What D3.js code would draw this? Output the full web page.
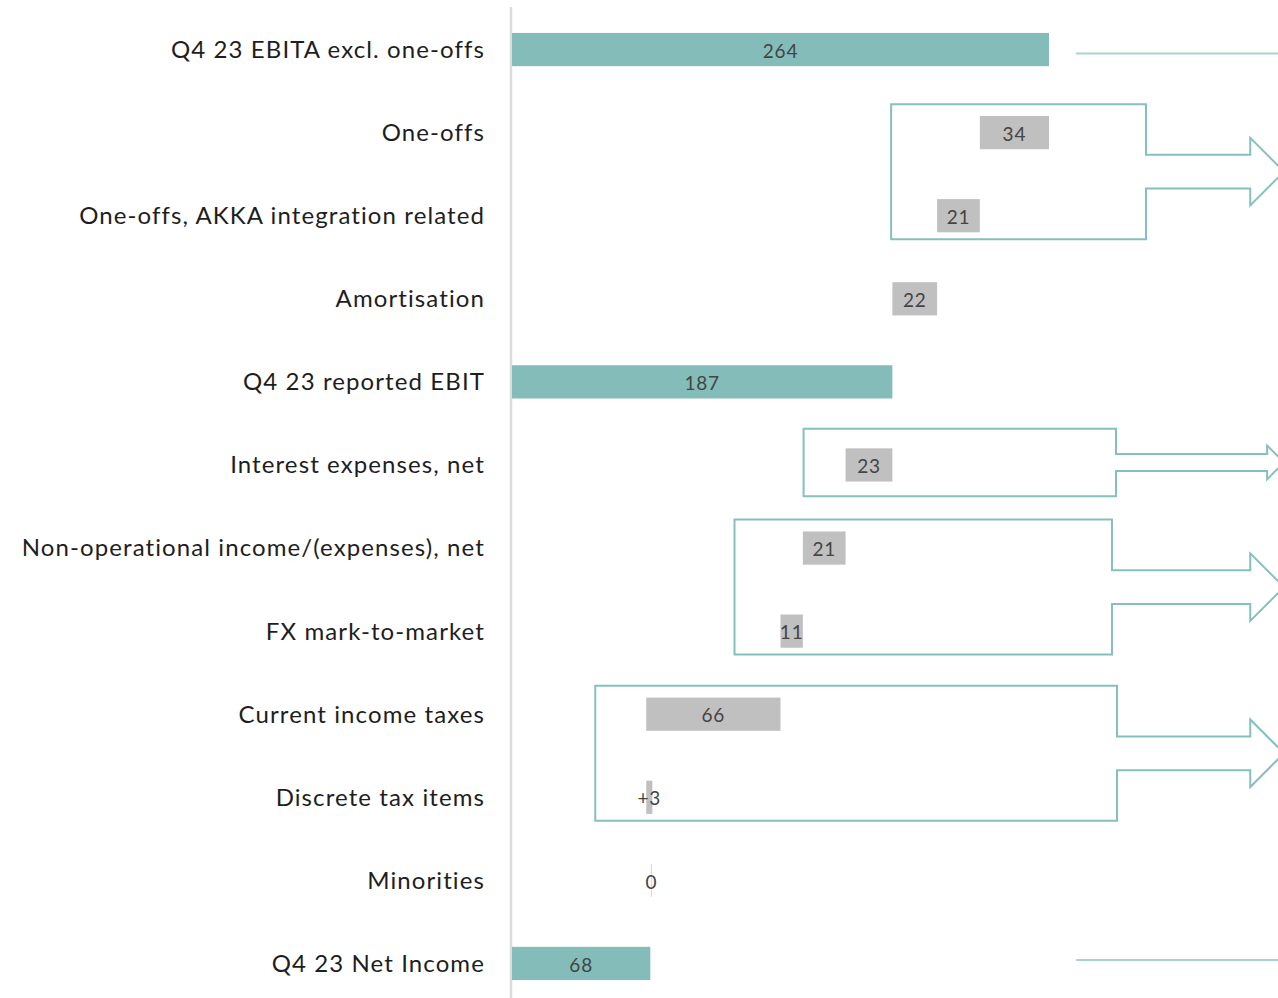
<!DOCTYPE html>
<html>
<head>
<meta charset="utf-8">
<script src="https://cdn.jsdelivr.net/npm/d3@7"></script>
<style>
  html, body { margin: 0; padding: 0; background: #fff; }
  svg { display: block; }
</style>
</head>
<body>
<svg id="chart" width="1278" height="998"></svg>
<script>
// Net income bridge, Q4 23 (EUR m)
const categories = [
  "Q4 23 EBITA excl. one-offs",
  "One-offs",
  "One-offs, AKKA integration related",
  "Amortisation",
  "Q4 23 reported EBIT",
  "Interest expenses, net",
  "Non-operational income/(expenses), net",
  "FX mark-to-market",
  "Current income taxes",
  "Discrete tax items",
  "Minorities",
  "Q4 23 Net Income"
];
// signed movement for each step; totals restate the running level
const values = [264, -34, -21, -22, 187, -23, -21, -11, -66, 3, 0, 68];
const kinds = ["total", "delta", "delta", "delta", "total", "delta", "delta", "delta", "delta", "delta", "marker", "total"];
const valueLabels = ["264", "34", "21", "22", "187", "23", "21", "11", "66", "+3", "0", "68"];
// rows bracketed together and pointed onwards
const groups = [[1, 2], [5], [6, 7], [8, 9]];

// layout
const W = 1278, H = 998;
const axisX = 511;
const boxPad = [46, 42, 46, 51];
const boxRight = [1146, 1116, 1112, 1117];
const arrowTip = 1284;
const teal = "#83bcb9";
const tealLine = "#86c0bd";
const grey = "#c0c0c0";
const font = "Lato, 'Open Sans', sans-serif";

const svg = d3.select("#chart");

const x = d3.scaleLinear().domain([0, 264]).range([512, 1049]);
const y = d3.scaleBand()
  .domain(d3.range(categories.length))
  .range([8, 1005])
  .paddingInner(0.6)
  .paddingOuter(0.3);

// running levels for the waterfall
let level = 0;
const rows = values.map((v, i) => {
  let start, end;
  if (kinds[i] === "total") { start = 0; end = v; level = v; }
  else { start = level; end = level + v; level = end; }
  return { i, start, end, lo: Math.min(start, end), hi: Math.max(start, end), kind: kinds[i], label: valueLabels[i] };
});

// category axis line
svg.append("line")
  .attr("x1", axisX).attr("x2", axisX)
  .attr("y1", 7).attr("y2", H)
  .attr("stroke", "#dcdcdc").attr("stroke-width", 2.5);

// category labels
svg.append("g").selectAll("text")
  .data(categories)
  .join("text")
  .attr("x", 485)
  .attr("y", (d, i) => y(i) + y.bandwidth() / 2)
  .attr("dy", "0.35em")
  .attr("text-anchor", "end")
  .attr("font-family", font)
  .attr("font-size", 24)
  .attr("letter-spacing", 1.1)
  .attr("fill", "#1e1e1e")
  .text(d => d);

// brackets with arrows
groups.forEach((g, k) => {
  const lo = d3.min(g, i => rows[i].lo);
  const centers = g.map(i => y(i) + y.bandwidth() / 2);
  const c = (d3.min(centers) + d3.max(centers)) / 2 - 2.5;
  const half = g.length * 33.75;
  const left = x(lo) - boxPad[k];
  const right = boxRight[k];
  const top = c - half, bottom = c + half;
  const shaft = half / 4, head = half / 2;
  const base = arrowTip - head;
  const p = d3.path();
  p.moveTo(left, top);
  p.lineTo(right, top);
  p.lineTo(right, c - shaft);
  p.lineTo(base, c - shaft);
  p.lineTo(base, c - head);
  p.lineTo(arrowTip, c);
  p.lineTo(base, c + head);
  p.lineTo(base, c + shaft);
  p.lineTo(right, c + shaft);
  p.lineTo(right, bottom);
  p.lineTo(left, bottom);
  p.closePath();
  svg.append("path")
    .attr("d", p.toString())
    .attr("fill", "none")
    .attr("stroke", tealLine)
    .attr("stroke-width", 2);
});

// connector lines leaving the totals
[[0, 4], [11, -3.5]].forEach(([i, off]) => {
  svg.append("line")
    .attr("x1", 1076).attr("x2", W)
    .attr("y1", y(i) + y.bandwidth() / 2 + off)
    .attr("y2", y(i) + y.bandwidth() / 2 + off)
    .attr("stroke", "#a9d3d0").attr("stroke-width", 2);
});

// bars
const barRows = rows.filter(r => r.kind !== "marker");
svg.append("g").selectAll("rect")
  .data(barRows)
  .join("rect")
  .attr("x", d => x(d.lo))
  .attr("y", d => y(d.i))
  .attr("width", d => Math.max(0, x(d.hi) - x(d.lo)))
  .attr("height", y.bandwidth())
  .attr("fill", d => d.kind === "total" ? teal : grey);

// zero movement marker
rows.filter(r => r.kind === "marker").forEach(r => {
  svg.append("line")
    .attr("x1", x(r.start) - 1).attr("x2", x(r.start) - 1)
    .attr("y1", y(r.i)).attr("y2", y(r.i) + y.bandwidth())
    .attr("stroke", "#d4d4d4").attr("stroke-width", 1);
});

// value labels
svg.append("g").selectAll("text")
  .data(rows)
  .join("text")
  .attr("x", d => d.kind === "marker" ? x(d.start) - 1 : (x(d.lo) + x(d.hi)) / 2)
  .attr("y", d => y(d.i) + y.bandwidth() / 2 + 1.5)
  .attr("dy", "0.35em")
  .attr("text-anchor", "middle")
  .attr("font-family", font)
  .attr("font-size", 19)
  .attr("letter-spacing", 0.8)
  .attr("fill", "#444")
  .text(d => d.label);
</script>
</body>
</html>
